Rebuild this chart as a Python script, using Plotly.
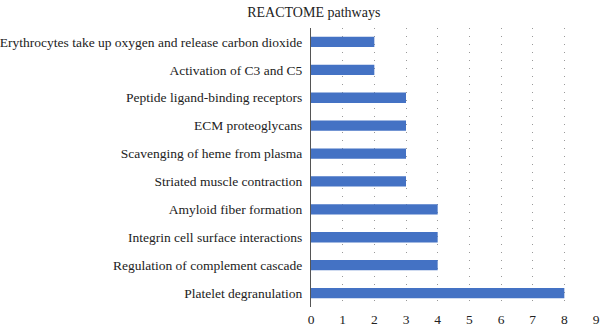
import plotly.graph_objects as go

categories = [
    "Platelet degranulation",
    "Regulation of complement cascade",
    "Integrin cell surface interactions",
    "Amyloid fiber formation",
    "Striated muscle contraction",
    "Scavenging of heme from plasma",
    "ECM proteoglycans",
    "Peptide ligand-binding receptors",
    "Activation of C3 and C5",
    "Erythrocytes take up oxygen and release carbon dioxide",
]
values = [8, 4, 4, 4, 3, 3, 3, 3, 2, 2]
x_ticks = list(range(0, 10))

fig = go.Figure(go.Bar(
    x=values, y=categories, orientation="h",
    marker=dict(color="#4472C4", line=dict(width=0)),
    width=0.37,
))

font = "Liberation Serif"
fig.update_layout(
    width=600, height=327,
    margin=dict(l=311, r=4, t=28, b=20),
    paper_bgcolor="white", plot_bgcolor="white",
    title=dict(text="REACTOME pathways", xref="container", x=0.523, xanchor="center",
               y=0.978, yanchor="top",
               font=dict(family=font, size=14, color="#222")),
    font=dict(family=font, size=13.5, color="#222"),
    showlegend=False,
    xaxis=dict(range=[0, 9], tickvals=x_ticks, showgrid=True, gridcolor="#999",
               griddash="1px,7px", gridwidth=1, zeroline=False, showline=False,
               ticks="", ticklabelstandoff=2, automargin=False,
               tickfont=dict(family=font, size=13.5, color="#222")),
    yaxis=dict(categoryorder="array", categoryarray=categories, showline=True,
               linecolor="#555", linewidth=1, ticks="", showgrid=False,
               ticklabelstandoff=5, automargin=False,
               tickfont=dict(family=font, size=13.5, color="#222")),
)
fig.write_html("out.html")
